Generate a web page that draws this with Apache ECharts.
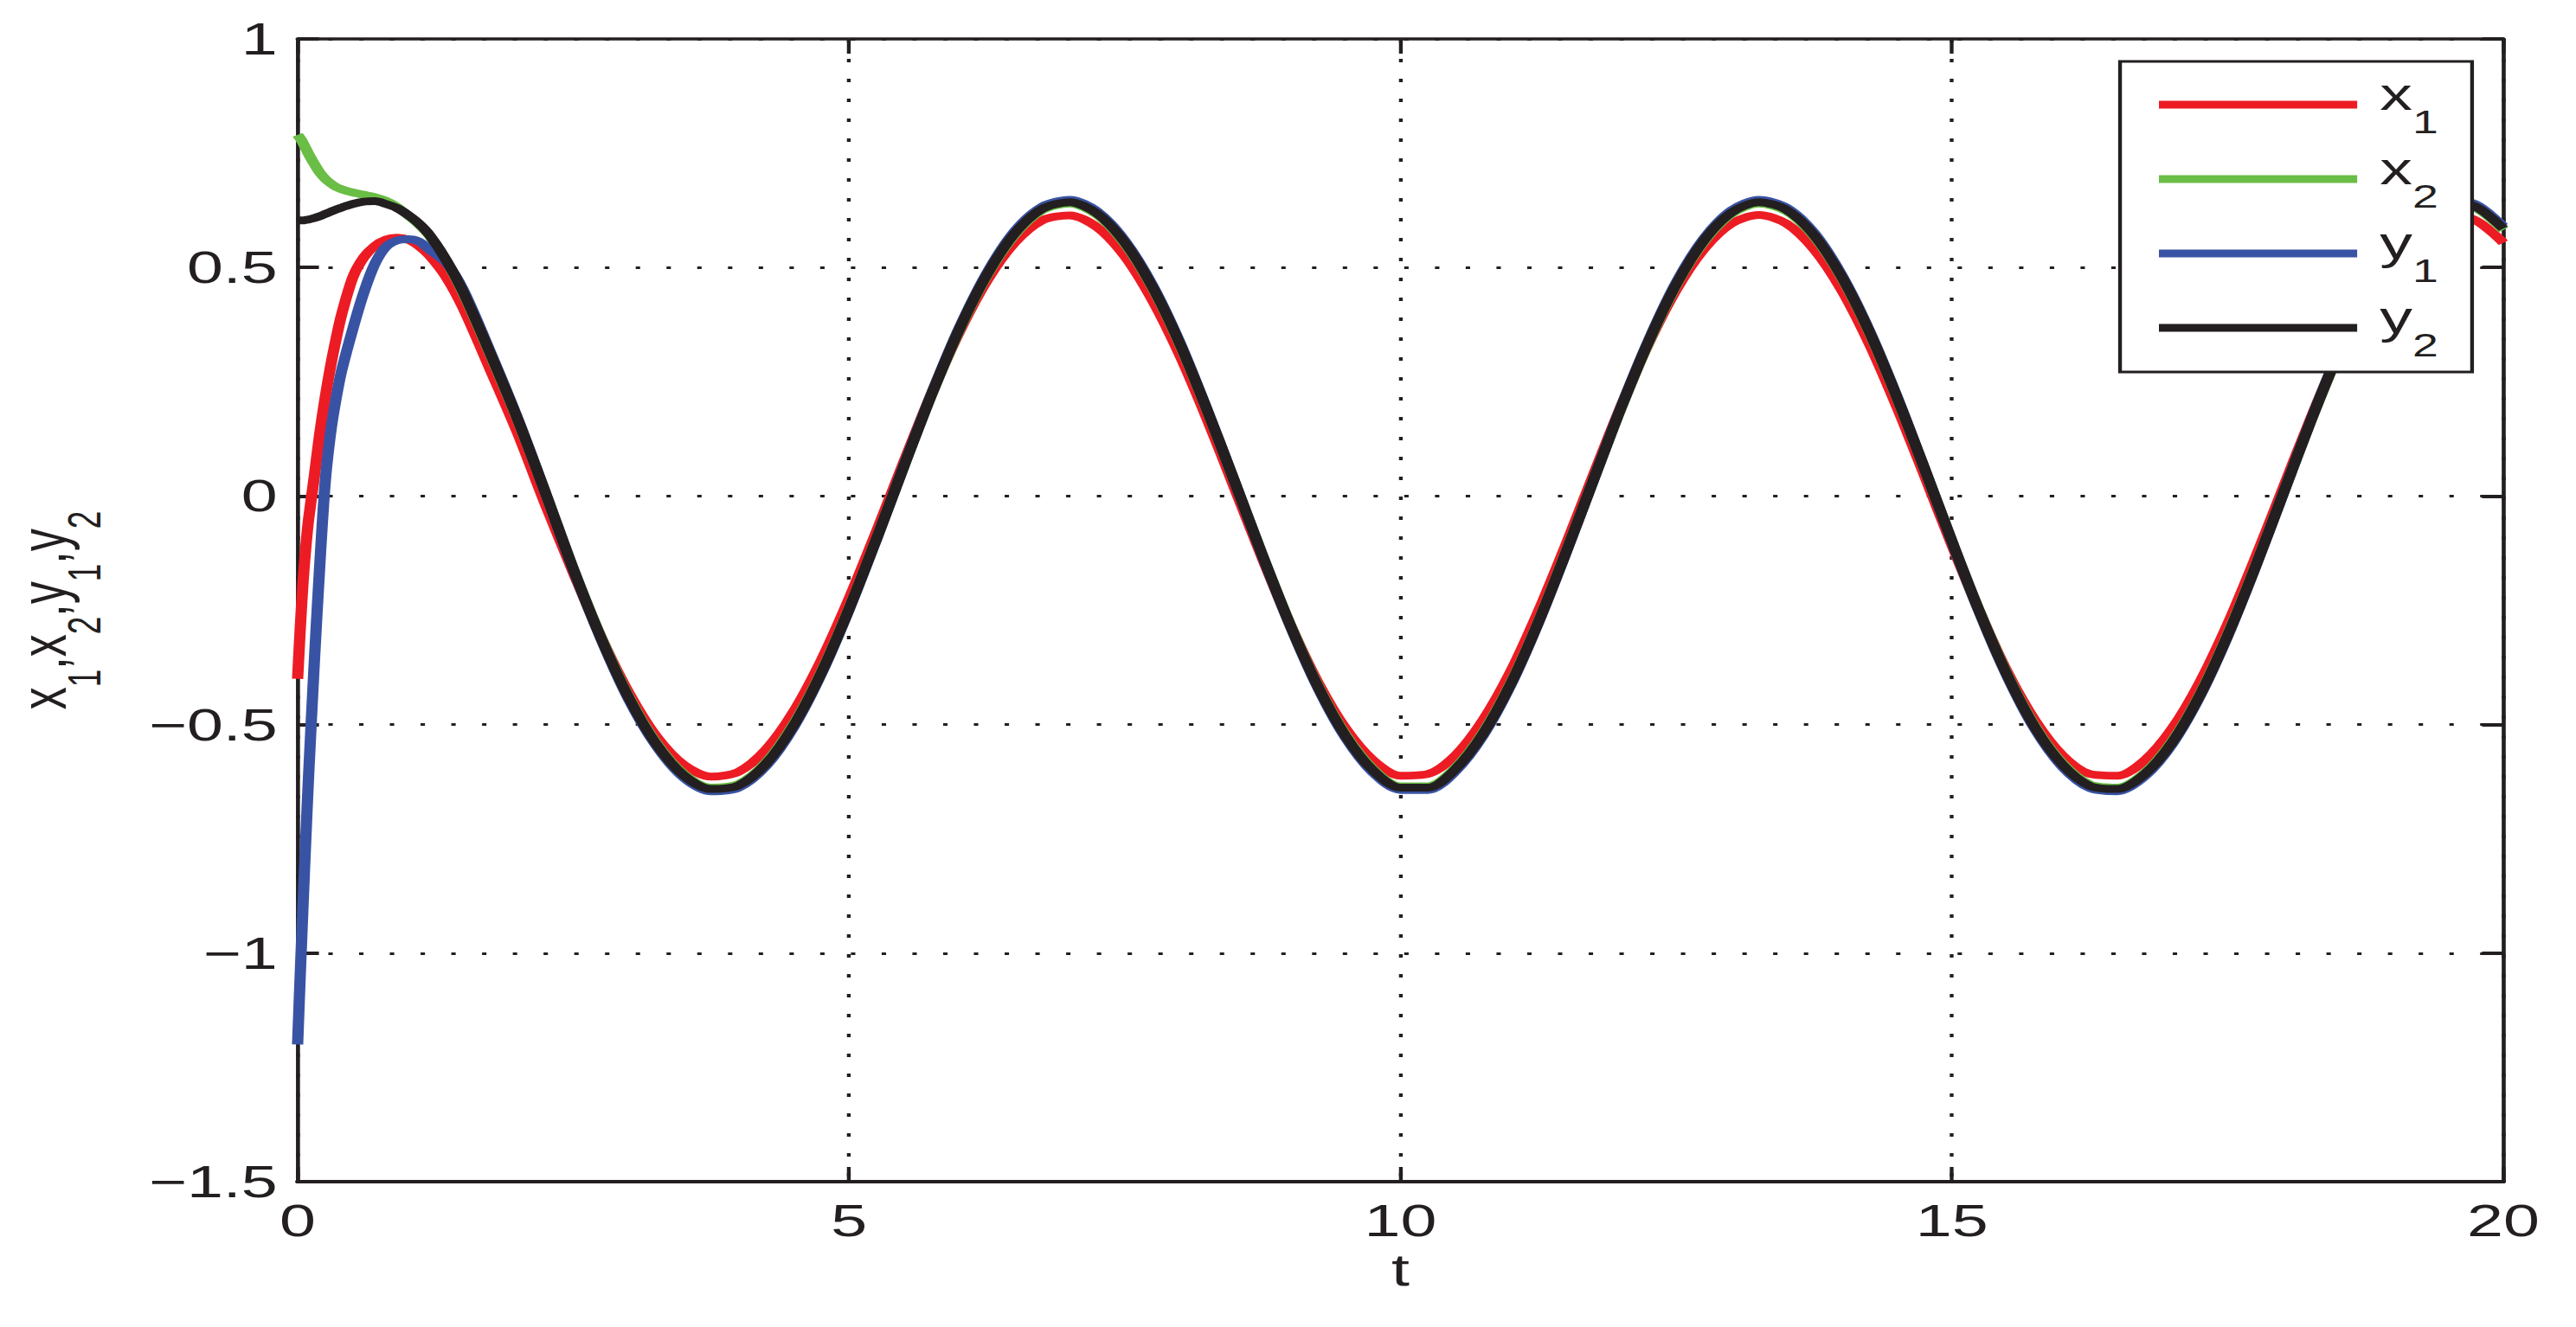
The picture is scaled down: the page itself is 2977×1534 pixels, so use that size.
<!DOCTYPE html>
<html>
<head>
<meta charset="utf-8">
<title>x1, x2, y1, y2 vs t</title>
<script src="https://cdn.jsdelivr.net/npm/echarts@6.0.0/dist/echarts.min.js"></script>
<style>
  html, body { margin: 0; padding: 0; background: #fff; overflow: hidden; }
  /* the original figure is stretched sideways, so draw narrow and widen it */
  #chart { width: 2053px; height: 1534px; transform: scaleX(1.45); transform-origin: 0 0; }
</style>
</head>
<body>
<div id="chart"></div>
<script>
  // sample times (s)
  var T = [0, 0.025, 0.05, 0.075, 0.1, 0.15, 0.2, 0.25, 0.3, 0.35, 0.4, 0.5, 0.6, 0.7, 0.8, 0.9, 1, 1.1, 1.2, 1.35, 1.5,
    1.75, 2, 2.25, 2.5, 2.75, 3, 3.25, 3.5, 3.75, 4, 4.25, 4.5, 4.75, 5, 5.25, 5.5, 5.75, 6, 6.25, 6.5, 6.75,
    7, 7.25, 7.5, 7.75, 8, 8.25, 8.5, 8.75, 9, 9.25, 9.5, 9.75, 10, 10.25, 10.5, 10.75, 11, 11.25, 11.5, 11.75,
    12, 12.25, 12.5, 12.75, 13, 13.25, 13.5, 13.75, 14, 14.25, 14.5, 14.75, 15, 15.25, 15.5, 15.75, 16, 16.25,
    16.5, 16.75, 17, 17.25, 17.5, 17.75, 18, 18.25, 18.5, 18.75, 19, 19.25, 19.5, 19.75, 20];

  var x1 = [-0.40, -0.285, -0.185, -0.11, -0.05, 0.04, 0.135, 0.215, 0.285, 0.345, 0.398, 0.478, 0.522, 0.547, 0.561,
    0.565, 0.561, 0.547, 0.525, 0.478, 0.412, 0.275, 0.135, -0.02,
    -0.167, -0.308, -0.429, -0.525, -0.588, -0.614, -0.603, -0.554, -0.471, -0.359,
    -0.225, -0.077, 0.076, 0.225, 0.359, 0.471, 0.554, 0.603, 0.614, 0.588,
    0.525, 0.429, 0.308, 0.167, 0.015, -0.137, -0.281, -0.407, -0.508, -0.578,
    -0.612, -0.608, -0.567, -0.490, -0.384, -0.253, -0.107, 0.046, 0.196, 0.334,
    0.451, 0.540, 0.596, 0.615, 0.596, 0.540, 0.451, 0.334, 0.196, 0.046,
    -0.107, -0.253, -0.384, -0.490, -0.567, -0.608, -0.612, -0.578, -0.508, -0.407,
    -0.281, -0.137, 0.015, 0.167, 0.308, 0.429, 0.525, 0.588, 0.614, 0.603, 0.554];

  var x2 = [0.79, 0.782, 0.772, 0.76, 0.748, 0.727, 0.708, 0.694, 0.684, 0.676, 0.671, 0.664, 0.659, 0.654, 0.646,
    0.633, 0.614, 0.594, 0.568, 0.513, 0.445, 0.308, 0.164, 0.005,
    -0.159, -0.308, -0.438, -0.539, -0.608, -0.638, -0.630, -0.582, -0.498, -0.384,
    -0.246, -0.093, 0.067, 0.222, 0.363, 0.482, 0.571, 0.625, 0.640, 0.615,
    0.552, 0.456, 0.331, 0.185, 0.029, -0.130, -0.281, -0.414, -0.521, -0.597,
    -0.635, -0.635, -0.594, -0.517, -0.409, -0.275, -0.123, 0.035, 0.192, 0.336,
    0.461, 0.556, 0.617, 0.640, 0.623, 0.568, 0.478, 0.358, 0.216, 0.061,
    -0.099, -0.252, -0.389, -0.502, -0.584, -0.631, -0.638, -0.605, -0.535, -0.433,
    -0.303, -0.155, 0.003, 0.161, 0.308, 0.438, 0.539, 0.608, 0.638, 0.630, 0.582];

  var y1 = [-1.2, -1.04, -0.89, -0.745, -0.61, -0.37, -0.155, 0.03, 0.14, 0.215, 0.275, 0.365, 0.445, 0.508, 0.545,
    0.559, 0.562, 0.557, 0.538, 0.51, 0.452, 0.314, 0.167, 0.005,
    -0.161, -0.312, -0.444, -0.546, -0.616, -0.646, -0.638, -0.590, -0.505, -0.389,
    -0.249, -0.094, 0.068, 0.225, 0.368, 0.488, 0.579, 0.633, 0.648, 0.623,
    0.559, 0.462, 0.336, 0.187, 0.029, -0.132, -0.284, -0.419, -0.528, -0.605,
    -0.643, -0.643, -0.602, -0.524, -0.414, -0.278, -0.125, 0.035, 0.195, 0.341,
    0.467, 0.563, 0.625, 0.648, 0.631, 0.576, 0.484, 0.363, 0.219, 0.061,
    -0.100, -0.255, -0.394, -0.509, -0.592, -0.639, -0.646, -0.613, -0.542, -0.438,
    -0.307, -0.157, 0.003, 0.163, 0.312, 0.444, 0.546, 0.616, 0.646, 0.638, 0.590];

  var y2 = [0.603, 0.603, 0.603, 0.604, 0.605, 0.608, 0.612, 0.617, 0.622, 0.627, 0.631, 0.639, 0.644, 0.645, 0.639,
    0.63, 0.615, 0.596, 0.57, 0.515, 0.447, 0.31, 0.165, 0.005,
    -0.160, -0.310, -0.440, -0.542, -0.611, -0.641, -0.633, -0.585, -0.501, -0.386,
    -0.247, -0.093, 0.067, 0.223, 0.365, 0.484, 0.574, 0.628, 0.643, 0.618,
    0.555, 0.458, 0.333, 0.186, 0.029, -0.131, -0.282, -0.416, -0.524, -0.600,
    -0.638, -0.638, -0.597, -0.520, -0.411, -0.276, -0.124, 0.035, 0.193, 0.338,
    0.463, 0.559, 0.620, 0.643, 0.626, 0.571, 0.480, 0.360, 0.217, 0.061,
    -0.099, -0.253, -0.391, -0.505, -0.587, -0.634, -0.641, -0.608, -0.538, -0.435,
    -0.305, -0.156, 0.003, 0.162, 0.310, 0.440, 0.542, 0.611, 0.641, 0.633, 0.585];

  var names = ['x1', 'x2', 'y1', 'y2'];
  var values = [x1, x2, y1, y2];
  var colors = ['#ed1c24', '#6abd45', '#3953a4', '#231f20'];

  var INK = '#231f20';
  var FONT = '"Liberation Sans", Arial, Helvetica, sans-serif';

  // main text and subscript pieces
  function rich(padLeft) {
    return {
      m: { fontSize: 52, fontFamily: FONT, color: INK, verticalAlign: 'top', padding: [0, 0, 0, padLeft] },
      s: { fontSize: 37, fontFamily: FONT, color: INK, verticalAlign: 'top', padding: [40, 0, 0, 0] }
    };
  }
  function minus(v) {
    return String(v).replace('-', '\u2212');
  }

  var chart = echarts.init(document.getElementById('chart'), null, { renderer: 'svg' });

  var series = names.map(function (n, k) {
    return {
      name: n,
      type: 'line',
      data: T.map(function (t, i) { return [t, values[k][i]]; }),
      showSymbol: false,
      smooth: 0.3,
      lineStyle: { color: colors[k], width: 9, join: 'round' },
      itemStyle: { color: colors[k] },
      emphasis: { disabled: true },
      silent: true
    };
  });

  var boxAxis = {
    type: 'value',
    axisLine: { show: true, onZero: false },
    axisTick: { show: true, inside: true, length: 17 },
    axisLabel: { show: false },
    splitLine: { show: false }
  };

  chart.setOption({
    animation: false,
    backgroundColor: '#fff',
    grid: { left: 237.2, top: 45, width: 1758, height: 1321, outerBoundsMode: 'none' },
    legend: {
      data: names,
      orient: 'vertical',
      left: 1689.7,
      top: 71,
      padding: [11.5, 27, 12.5, 31],
      itemWidth: 158,
      itemHeight: 9,
      itemGap: 9,
      icon: 'rect',
      itemStyle: { borderWidth: 0 },
      backgroundColor: '#fff',
      borderColor: INK,
      borderWidth: 3,
      selectedMode: false,
      formatter: function (n) { return '{m|' + n.charAt(0) + '}{s|' + n.charAt(1) + '}'; },
      textStyle: { color: INK, fontFamily: FONT, rich: rich(13) }
    },
    xAxis: [{
      type: 'value', position: 'bottom', min: 0, max: 20, interval: 5,
      name: 't', nameLocation: 'middle', nameGap: 75,
      nameTextStyle: { fontSize: 52, fontFamily: FONT, color: INK },
      axisLine: { show: true, onZero: false, lineStyle: { color: INK, width: 4 } },
      axisTick: { show: true, inside: true, length: 17, lineStyle: { color: INK, width: 3 } },
      axisLabel: { margin: 19, fontSize: 52, fontFamily: FONT, color: INK },
      splitLine: { show: true, lineStyle: { color: INK, width: 3, type: [4, 19] } }
    }, Object.assign({}, boxAxis, {
      position: 'top', min: 0, max: 20, interval: 5,
      axisLine: { show: true, onZero: false, lineStyle: { color: INK, width: 3.5 } },
      axisTick: { show: true, inside: true, length: 17, lineStyle: { color: INK, width: 3 } }
    })],
    yAxis: [{
      type: 'value', position: 'left', min: -1.5, max: 1, interval: 0.5,
      name: '{m|x}{s|1}{m|,x}{s|2}{m|,y}{s|1}{m|,y}{s|2}',
      nameLocation: 'middle', nameGap: 151.7, nameMoveOverlap: false,
      nameTextStyle: { color: INK, fontFamily: FONT, rich: rich(0) },
      axisLine: { show: true, onZero: false, lineStyle: { color: INK, width: 3.2 } },
      axisTick: { show: true, inside: true, length: 17, lineStyle: { color: INK, width: 4 } },
      axisLabel: { margin: 16, fontSize: 52, fontFamily: FONT, color: INK, formatter: minus },
      splitLine: { show: true, lineStyle: { color: INK, width: 3, type: [3.5, 21] } }
    }, Object.assign({}, boxAxis, {
      position: 'right', min: -1.5, max: 1, interval: 0.5,
      axisLine: { show: true, onZero: false, lineStyle: { color: INK, width: 3.2 } },
      axisTick: { show: true, inside: true, length: 17, lineStyle: { color: INK, width: 4 } }
    })],
    series: series
  });
</script>
</body>
</html>
